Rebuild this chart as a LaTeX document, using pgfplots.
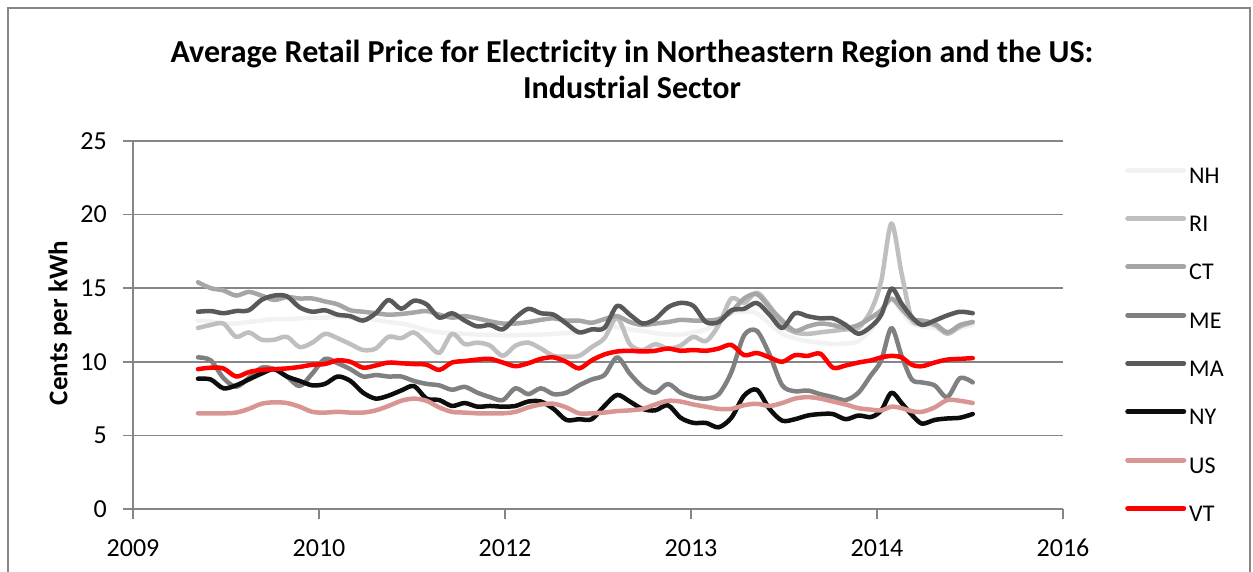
\documentclass[border=0pt]{standalone}
\usepackage{fontspec}
\setmainfont{Carlito}
\usepackage{pgfplots}
\usepackage{pgfplotstable}
\pgfplotsset{compat=1.18}
\definecolor{cNH}{HTML}{F2F2F2}
\definecolor{cRI}{HTML}{BFBFBF}
\definecolor{cCT}{HTML}{A6A6A6}
\definecolor{cME}{HTML}{808080}
\definecolor{cMA}{HTML}{595959}
\definecolor{cNY}{HTML}{0D0D0D}
\definecolor{cUS}{HTML}{D99594}
\definecolor{cVT}{HTML}{FF0000}
\definecolor{gridgray}{HTML}{868686}
\pgfplotstableread{
m NH RI CT ME MA NY US VT
0 12.8 12.3 15.4 10.3 13.4 8.85 6.5 9.5
1 12.75 12.5 15.0 10.1 13.45 8.8 6.5 9.6
2 12.6 12.6 14.85 8.9 13.3 8.2 6.5 9.55
3 12.6 11.7 14.5 8.3 13.45 8.4 6.55 9.0
4 12.7 12.0 14.75 8.9 13.5 8.8 6.8 9.3
5 12.8 11.5 14.5 9.6 14.2 9.2 7.15 9.45
6 12.9 11.5 14.2 9.5 14.5 9.5 7.25 9.5
7 12.9 11.7 14.4 9.0 14.45 9.0 7.2 9.55
8 12.95 11.0 14.3 8.35 13.7 8.7 6.95 9.65
9 13.0 11.3 14.3 9.2 13.4 8.4 6.6 9.8
10 13.0 11.9 14.1 10.2 13.5 8.5 6.55 9.85
11 13.05 11.6 13.9 9.9 13.2 9.0 6.6 10.1
12 13.0 11.2 13.5 9.5 13.1 8.7 6.55 10.0
13 12.95 10.8 13.4 9.0 12.8 7.9 6.55 9.6
14 12.85 10.9 13.3 9.1 13.3 7.5 6.7 9.75
15 12.7 11.7 13.2 9.0 14.2 7.7 7.0 9.95
16 12.6 11.6 13.25 9.0 13.6 8.05 7.35 9.9
17 12.4 12.0 13.35 8.7 14.15 8.35 7.5 9.85
18 12.15 11.3 13.45 8.5 13.9 7.5 7.35 9.8
19 12.0 10.6 13.2 8.4 13.0 7.4 6.9 9.45
20 11.95 11.9 13.0 8.1 13.3 7.0 6.6 9.95
21 11.9 11.2 13.1 8.3 12.8 7.2 6.55 10.05
22 11.85 11.3 12.95 7.9 12.4 6.95 6.5 10.15
23 11.85 11.1 12.75 7.6 12.5 7.0 6.5 10.2
24 11.8 10.4 12.6 7.4 12.2 6.95 6.5 9.95
25 11.8 11.1 12.6 8.2 13.0 7.0 6.6 9.7
26 11.85 11.3 12.7 7.8 13.6 7.3 6.9 9.9
27 11.85 10.9 12.85 8.2 13.3 7.3 7.1 10.2
28 11.9 10.4 12.95 7.8 13.2 6.8 7.15 10.3
29 11.95 10.35 12.8 7.9 12.6 6.05 6.9 10.0
30 12.0 10.4 12.8 8.4 12.0 6.1 6.5 9.55
31 12.2 11.0 12.65 8.8 12.2 6.1 6.5 10.1
32 12.4 11.6 12.9 9.1 12.3 7.0 6.55 10.5
33 12.35 13.0 13.1 10.3 13.8 7.75 6.65 10.7
34 12.2 11.2 12.7 9.2 13.2 7.3 6.7 10.75
35 12.1 10.8 12.5 8.3 12.6 6.8 6.8 10.7
36 11.95 11.2 12.6 7.9 12.9 6.7 7.1 10.75
37 11.85 10.9 12.7 8.5 13.7 7.05 7.35 10.9
38 11.85 11.1 12.85 7.9 14.0 6.2 7.3 10.75
39 12.0 11.7 12.8 7.6 13.8 5.85 7.1 10.8
40 12.2 11.4 12.8 7.5 12.7 5.85 6.95 10.75
41 12.7 12.5 12.9 7.8 12.7 5.55 6.8 10.9
42 13.3 14.3 13.4 9.3 13.5 6.2 6.8 11.15
43 13.4 14.0 14.3 11.8 13.6 7.7 7.05 10.45
44 13.3 14.7 14.6 12.1 14.0 8.1 7.15 10.6
45 12.6 13.8 13.7 10.5 13.2 6.8 7.0 10.3
46 11.9 12.5 12.8 8.4 12.3 6.0 7.2 10.0
47 11.6 12.0 12.1 8.0 13.3 6.1 7.5 10.45
48 11.4 11.9 12.4 8.05 13.1 6.35 7.6 10.4
49 11.3 12.0 12.6 7.8 12.95 6.45 7.5 10.55
50 11.2 12.1 12.5 7.6 12.95 6.45 7.3 9.6
51 11.25 12.2 12.3 7.4 12.5 6.1 7.1 9.75
52 11.4 12.3 12.5 7.9 11.9 6.35 6.85 9.95
53 12.2 13.5 13.0 9.1 12.4 6.25 6.75 10.1
53.8 13.2 15.5 13.5 10.1 13.2 6.7 6.7 10.3
54.6 14.2 19.4 14.3 12.3 14.97 7.9 6.95 10.4
55.4 13.4 16.0 13.6 10.4 13.95 7.2 6.85 10.3
56.2 12.6 12.9 12.9 8.8 13.05 6.4 6.65 9.8
57 12.4 12.6 12.8 8.6 12.5 5.8 6.6 9.7
58 12.3 12.5 12.6 8.4 12.8 6.05 6.9 9.95
59 12.0 11.9 12.0 7.6 13.15 6.15 7.4 10.15
60 12.3 12.4 12.5 8.9 13.4 6.2 7.35 10.2
61 12.5 12.7 12.7 8.6 13.3 6.45 7.2 10.25
}\data
\begin{document}
\begin{tikzpicture}
\useasboundingbox (0,0) rectangle (1253pt,571pt);
\draw[gridgray, line width=1.5pt] (8pt,-10pt) -- (8pt,563pt) -- (1250pt,563pt) -- (1250pt,-10pt);
\node[align=center, font=\fontsize{32}{36}\selectfont\bfseries] at (632pt,502pt)
  {Average Retail Price for Electricity in Northeastern Region and the US:\\Industrial Sector};
\node[rotate=90, font=\fontsize{27}{32}\selectfont\bfseries] at (60pt,248pt) {Cents per kWh};
\begin{axis}[
  at={(133pt,62pt)}, anchor=south west,
  scale only axis, width=930pt, height=368pt,
  xmin=-5.118, xmax=68.11, ymin=0, ymax=25,
  xtick={-5.118,9.528,24.173,38.819,53.465,68.11},
  xticklabels={2009,2010,2012,2013,2014,2016},
  ytick={0,5,10,15,20,25},
  axis lines*=left,
  axis line style={gridgray, line width=1.5pt, -},
  ymajorgrids, grid style={gridgray, line width=1.5pt},
  tick align=outside, major tick length=10pt,
  tick style={gridgray, line width=1.5pt},
  /pgf/number format/assume math mode=true,
  tick label style={font=\fontsize{26}{31}\selectfont, text=black},
  yticklabel style={anchor=east, inner sep=0pt, xshift=-16pt},
  xticklabel style={anchor=north, inner sep=0pt, yshift=-20pt},
  no markers,
  legend style={at={(1.0667,0.932)}, anchor=north west, draw=none, fill=none,
    font=\fontsize{24}{28}\selectfont, row sep=26.3pt, inner sep=0pt,
    nodes={inner sep=0pt, text height=17pt, text depth=5pt, anchor=west}},
  legend cell align=left,
  legend image code/.code={\draw[#1, line width=5pt, line cap=round] (0pt,7pt) -- (56pt,7pt);},
  every axis plot/.append style={line width=4.5pt, smooth, line join=round, line cap=round},
]
\addplot[cNH] table[x=m,y=NH]{\data}; \addlegendentry{\hspace*{3pt}NH}
\addplot[cRI] table[x=m,y=RI]{\data}; \addlegendentry{\hspace*{3pt}RI}
\addplot[cCT] table[x=m,y=CT]{\data}; \addlegendentry{\hspace*{3pt}CT}
\addplot[cME] table[x=m,y=ME]{\data}; \addlegendentry{\hspace*{3pt}ME}
\addplot[cMA] table[x=m,y=MA]{\data}; \addlegendentry{\hspace*{3pt}MA}
\addplot[cNY] table[x=m,y=NY]{\data}; \addlegendentry{\hspace*{3pt}NY}
\addplot[cUS] table[x=m,y=US]{\data}; \addlegendentry{\hspace*{3pt}US}
\addplot[cVT] table[x=m,y=VT]{\data}; \addlegendentry{\hspace*{3pt}VT}
\end{axis}
\end{tikzpicture}
\end{document}
